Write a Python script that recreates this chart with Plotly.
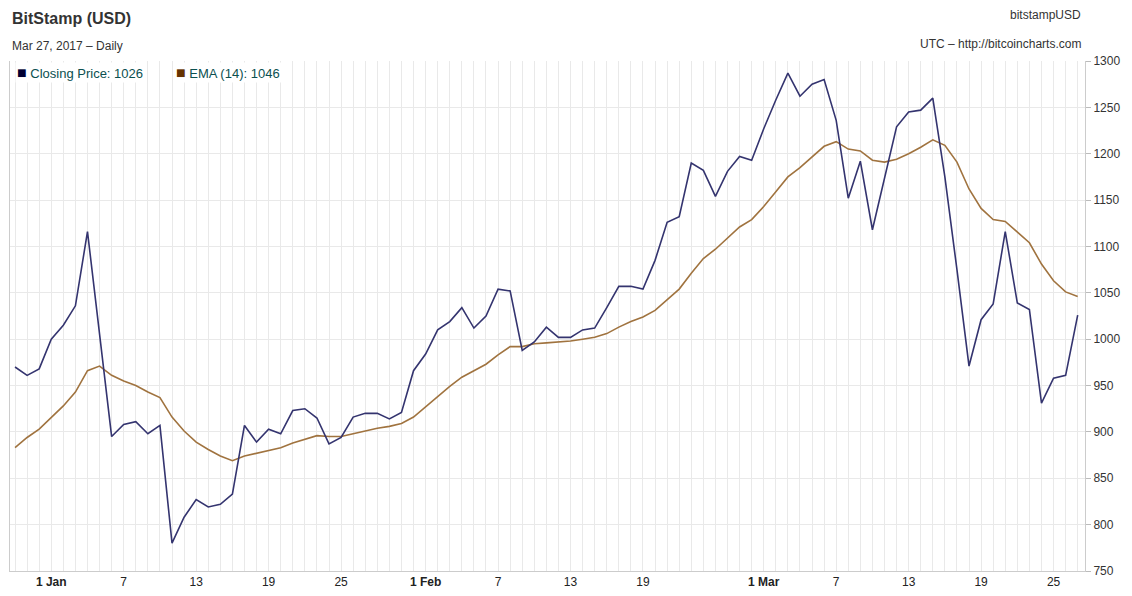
import pandas as pd
import plotly.graph_objects as go

# daily data, Dec 29 2016 - Mar 27 2017
dates = pd.date_range("2016-12-29", "2017-03-27", freq="D")

closing_price = [
    970, 961, 968, 1000, 1015, 1036, 1116, 1005, 895, 908,
    911, 898, 907, 780, 808, 827, 819, 822, 833, 907,
    889, 903, 898, 923, 925, 915, 887, 894, 916, 920,
    920, 914, 921, 966, 984, 1010, 1019, 1034, 1012, 1025,
    1054, 1052, 988, 997, 1013, 1002, 1002, 1010, 1012, 1034,
    1057, 1057, 1054, 1085, 1126, 1132, 1190, 1182, 1154, 1181,
    1197, 1193, 1227, 1258, 1287, 1262, 1275, 1280, 1236, 1152,
    1192, 1118, 1175, 1229, 1245, 1247, 1260, 1175, 1075, 971,
    1021, 1038, 1116, 1039, 1032, 931, 958, 961, 1026,
]

ema_14 = [
    883, 894, 903, 916, 928, 943, 966, 971, 961, 955,
    950, 943, 937, 916, 901, 889, 881, 874, 869, 874,
    877, 880, 883, 888, 892, 896, 895, 895, 898, 901,
    904, 906, 909, 916, 927, 939, 949, 959, 966, 973,
    983, 992, 992, 995, 996, 997, 998, 1000, 1002, 1006,
    1013, 1019, 1024, 1031, 1043, 1054, 1071, 1087, 1097, 1109,
    1121, 1129, 1143, 1159, 1175, 1185, 1196, 1208, 1213, 1205,
    1203, 1193, 1191, 1194, 1200, 1207, 1215, 1209, 1191, 1162,
    1141, 1129, 1127, 1116, 1104, 1081, 1063, 1051, 1046,
]

tick_dates = ["2017-01-01", "2017-01-07", "2017-01-13", "2017-01-19", "2017-01-25",
              "2017-02-01", "2017-02-07", "2017-02-13", "2017-02-19",
              "2017-03-01", "2017-03-07", "2017-03-13", "2017-03-19", "2017-03-25"]
tick_labels = ["<b>1 Jan</b>", "7", "13", "19", "25",
               "<b>1 Feb</b>", "7", "13", "19",
               "<b>1 Mar</b>", "7", "13", "19", "25"]

FONT = "Liberation Sans, Arial, sans-serif"
CLOSE_COLOR = "#34346f"
EMA_COLOR = "#a0733f"

fig = go.Figure()
fig.add_trace(go.Scatter(x=dates, y=ema_14, mode="lines", name="EMA (14)",
                         line=dict(color=EMA_COLOR, width=1.6)))
fig.add_trace(go.Scatter(x=dates, y=closing_price, mode="lines", name="Closing Price",
                         line=dict(color=CLOSE_COLOR, width=1.6)))

# page body has an 8px margin, so the figure is 8px smaller than the window
fig.update_layout(
    width=1124, height=588,
    margin=dict(l=2, r=47, t=53, b=25),
    paper_bgcolor="white", plot_bgcolor="white",
    showlegend=False,
    font=dict(family=FONT, size=12, color="#333333"),
)

fig.update_xaxes(
    range=["2016-12-28 14:00", "2017-03-27 14:30"],
    tickvals=tick_dates, ticktext=tick_labels,
    tickfont=dict(size=12, color="#222222"),
    showgrid=True, gridcolor="#e9e9e9", gridwidth=1,
    minor=dict(dtick=86400000, showgrid=True, gridcolor="#e9e9e9", gridwidth=1),
    showline=True, linecolor="#cccccc", linewidth=1,
    ticks="", zeroline=False, automargin=False,
)
fig.update_yaxes(
    range=[750, 1300], dtick=50, side="right",
    tickfont=dict(size=12, color="#333333"),
    showgrid=True, gridcolor="#e9e9e9", gridwidth=1,
    ticks="outside", ticklen=5, tickcolor="#bbbbbb",
    showline=True, linecolor="#cccccc", linewidth=1, mirror=True,
    zeroline=False, automargin=False,
)

fig.add_annotation(text="<b>BitStamp (USD)</b>", xref="paper", yref="paper",
                   x=0, y=1, yshift=43, xanchor="left", yanchor="middle",
                   showarrow=False, font=dict(size=16, color="#333333"))
fig.add_annotation(text="Mar 27, 2017 \u2013 Daily", xref="paper", yref="paper",
                   x=0, y=1, yshift=15, xanchor="left", yanchor="middle",
                   showarrow=False, font=dict(size=12, color="#333333"))
fig.add_annotation(text="bitstampUSD", xref="paper", yref="paper",
                   x=1, xshift=-2, y=1, yshift=46, xanchor="right", yanchor="middle",
                   showarrow=False, font=dict(size=12, color="#333333"))
fig.add_annotation(text="UTC \u2013 http://bitcoincharts.com", xref="paper", yref="paper",
                   x=1, xshift=-2, y=1, yshift=17, xanchor="right", yanchor="middle",
                   showarrow=False, font=dict(size=12, color="#333333"))

# legend row
fig.add_annotation(
    text=f"<span style='color:#000033;font-size:16px'>\u25a0</span> Closing Price: {closing_price[-1]}",
    xref="paper", yref="paper", x=0, xshift=5, y=1, yshift=-11,
    xanchor="left", yanchor="middle", showarrow=False,
    font=dict(size=13, color="#0b5050"), bgcolor="white",
)
fig.add_annotation(
    text=f"<span style='color:#663300;font-size:16px'>\u25a0</span> EMA (14): {ema_14[-1]}",
    xref="paper", yref="paper", x=0, xshift=164, y=1, yshift=-11,
    xanchor="left", yanchor="middle", showarrow=False,
    font=dict(size=13, color="#0b5050"), bgcolor="white",
)

fig.write_html("out.html")
